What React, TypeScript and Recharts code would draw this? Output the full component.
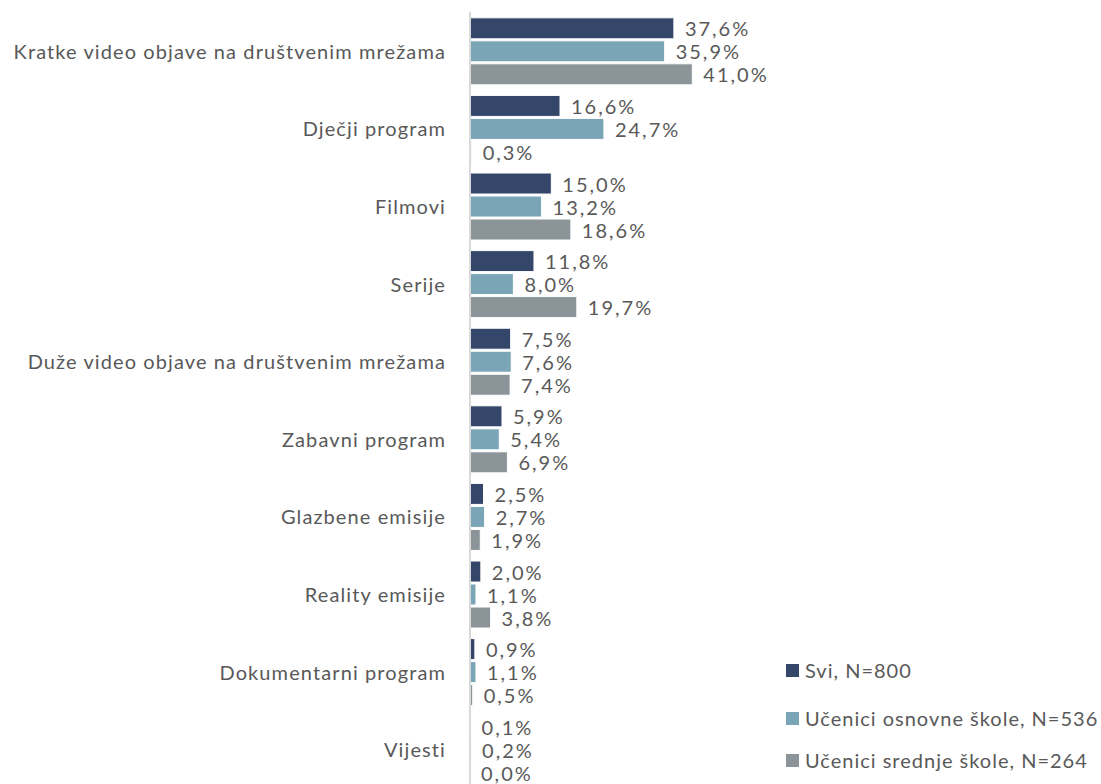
import { Bar, BarChart, LabelList, XAxis, YAxis } from "recharts";

const categories = [
  "Kratke video objave na društvenim mrežama",
  "Dječji program",
  "Filmovi",
  "Serije",
  "Duže video objave na društvenim mrežama",
  "Zabavni program",
  "Glazbene emisije",
  "Reality emisije",
  "Dokumentarni program",
  "Vijesti",
];
const svi = [37.6, 16.6, 15.0, 11.8, 7.5, 5.9, 2.5, 2.0, 0.9, 0.1];
const osnovna = [35.9, 24.7, 13.2, 8.0, 7.6, 5.4, 2.7, 1.1, 1.1, 0.2];
const srednja = [41.0, 0.3, 18.6, 19.7, 7.4, 6.9, 1.9, 3.8, 0.5, 0.0];

const series = [
  { key: "svi", name: "Svi, N=800", color: "#34476A" },
  { key: "osnovna", name: "Učenici osnovne škole, N=536", color: "#79A5B7" },
  { key: "srednja", name: "Učenici srednje škole, N=264", color: "#8A9499" },
];

const data = categories.map((name, i) => ({
  name,
  svi: svi[i],
  osnovna: osnovna[i],
  srednja: srednja[i],
}));

const FONT = "Lato, 'Open Sans', sans-serif";
const TEXT = "#595959";

const fmt = (v: number) => v.toFixed(1).replace(".", ",") + "%";

function ValueLabel(props: any) {
  const { x, y, width, height, value } = props;
  return (
    <text
      x={Number(x) + Number(width) + 11}
      y={Number(y) + Number(height) / 2}
      dominantBaseline="central"
      fill={TEXT}
      fontSize={20}
      fontFamily={FONT}
      letterSpacing={2}
    >
      {fmt(Number(value))}
    </text>
  );
}

function CategoryTick(props: any) {
  const { x, y, payload } = props;
  return (
    <text
      x={x}
      y={y}
      textAnchor="end"
      dominantBaseline="central"
      fill={TEXT}
      fontSize={20}
      fontFamily={FONT}
      letterSpacing={1.1}
    >
      {payload.value}
    </text>
  );
}

export default function App() {
  return (
    <div
      style={{
        position: "absolute",
        left: 0,
        top: 0,
        width: 1101,
        height: 784,
        overflow: "hidden",
        background: "#fff",
      }}
    >
      <BarChart
        width={1101}
        height={790}
        data={data}
        layout="vertical"
        margin={{ top: 12, right: 387, bottom: 2, left: 0 }}
        barCategoryGap="7.5%"
        barGap={2}
      >
        <XAxis type="number" domain={[0, 45]} hide />
        <YAxis
          type="category"
          dataKey="name"
          width={470}
          axisLine={{ stroke: "#D9D9D9", strokeWidth: 2 }}
          tickLine={false}
          tickSize={0}
          tickMargin={24}
          tick={<CategoryTick />}
          interval={0}
        />
        {series.map((s) => (
          <Bar
            key={s.key}
            dataKey={s.key}
            name={s.name}
            fill={s.color}
            stroke="#ffffff"
            strokeWidth={1}
            minPointSize={0.01}
            isAnimationActive={false}
          >
            <LabelList dataKey={s.key} content={<ValueLabel />} />
          </Bar>
        ))}
      </BarChart>
      <div
        style={{
          position: "absolute",
          left: 786,
          top: 655,
          fontFamily: FONT,
          fontSize: 20,
          letterSpacing: 1,
          color: TEXT,
        }}
      >
        {series.map((s, i) => (
          <div
            key={s.key}
            style={{
              display: "flex",
              alignItems: "center",
              height: 30,
              marginBottom: [18, 12, 0][i],
              whiteSpace: "nowrap",
            }}
          >
            <span
              style={{
                display: "inline-block",
                width: 13,
                height: 13,
                background: s.color,
                marginRight: 6,
              }}
            />
            {s.name}
          </div>
        ))}
      </div>
    </div>
  );
}
